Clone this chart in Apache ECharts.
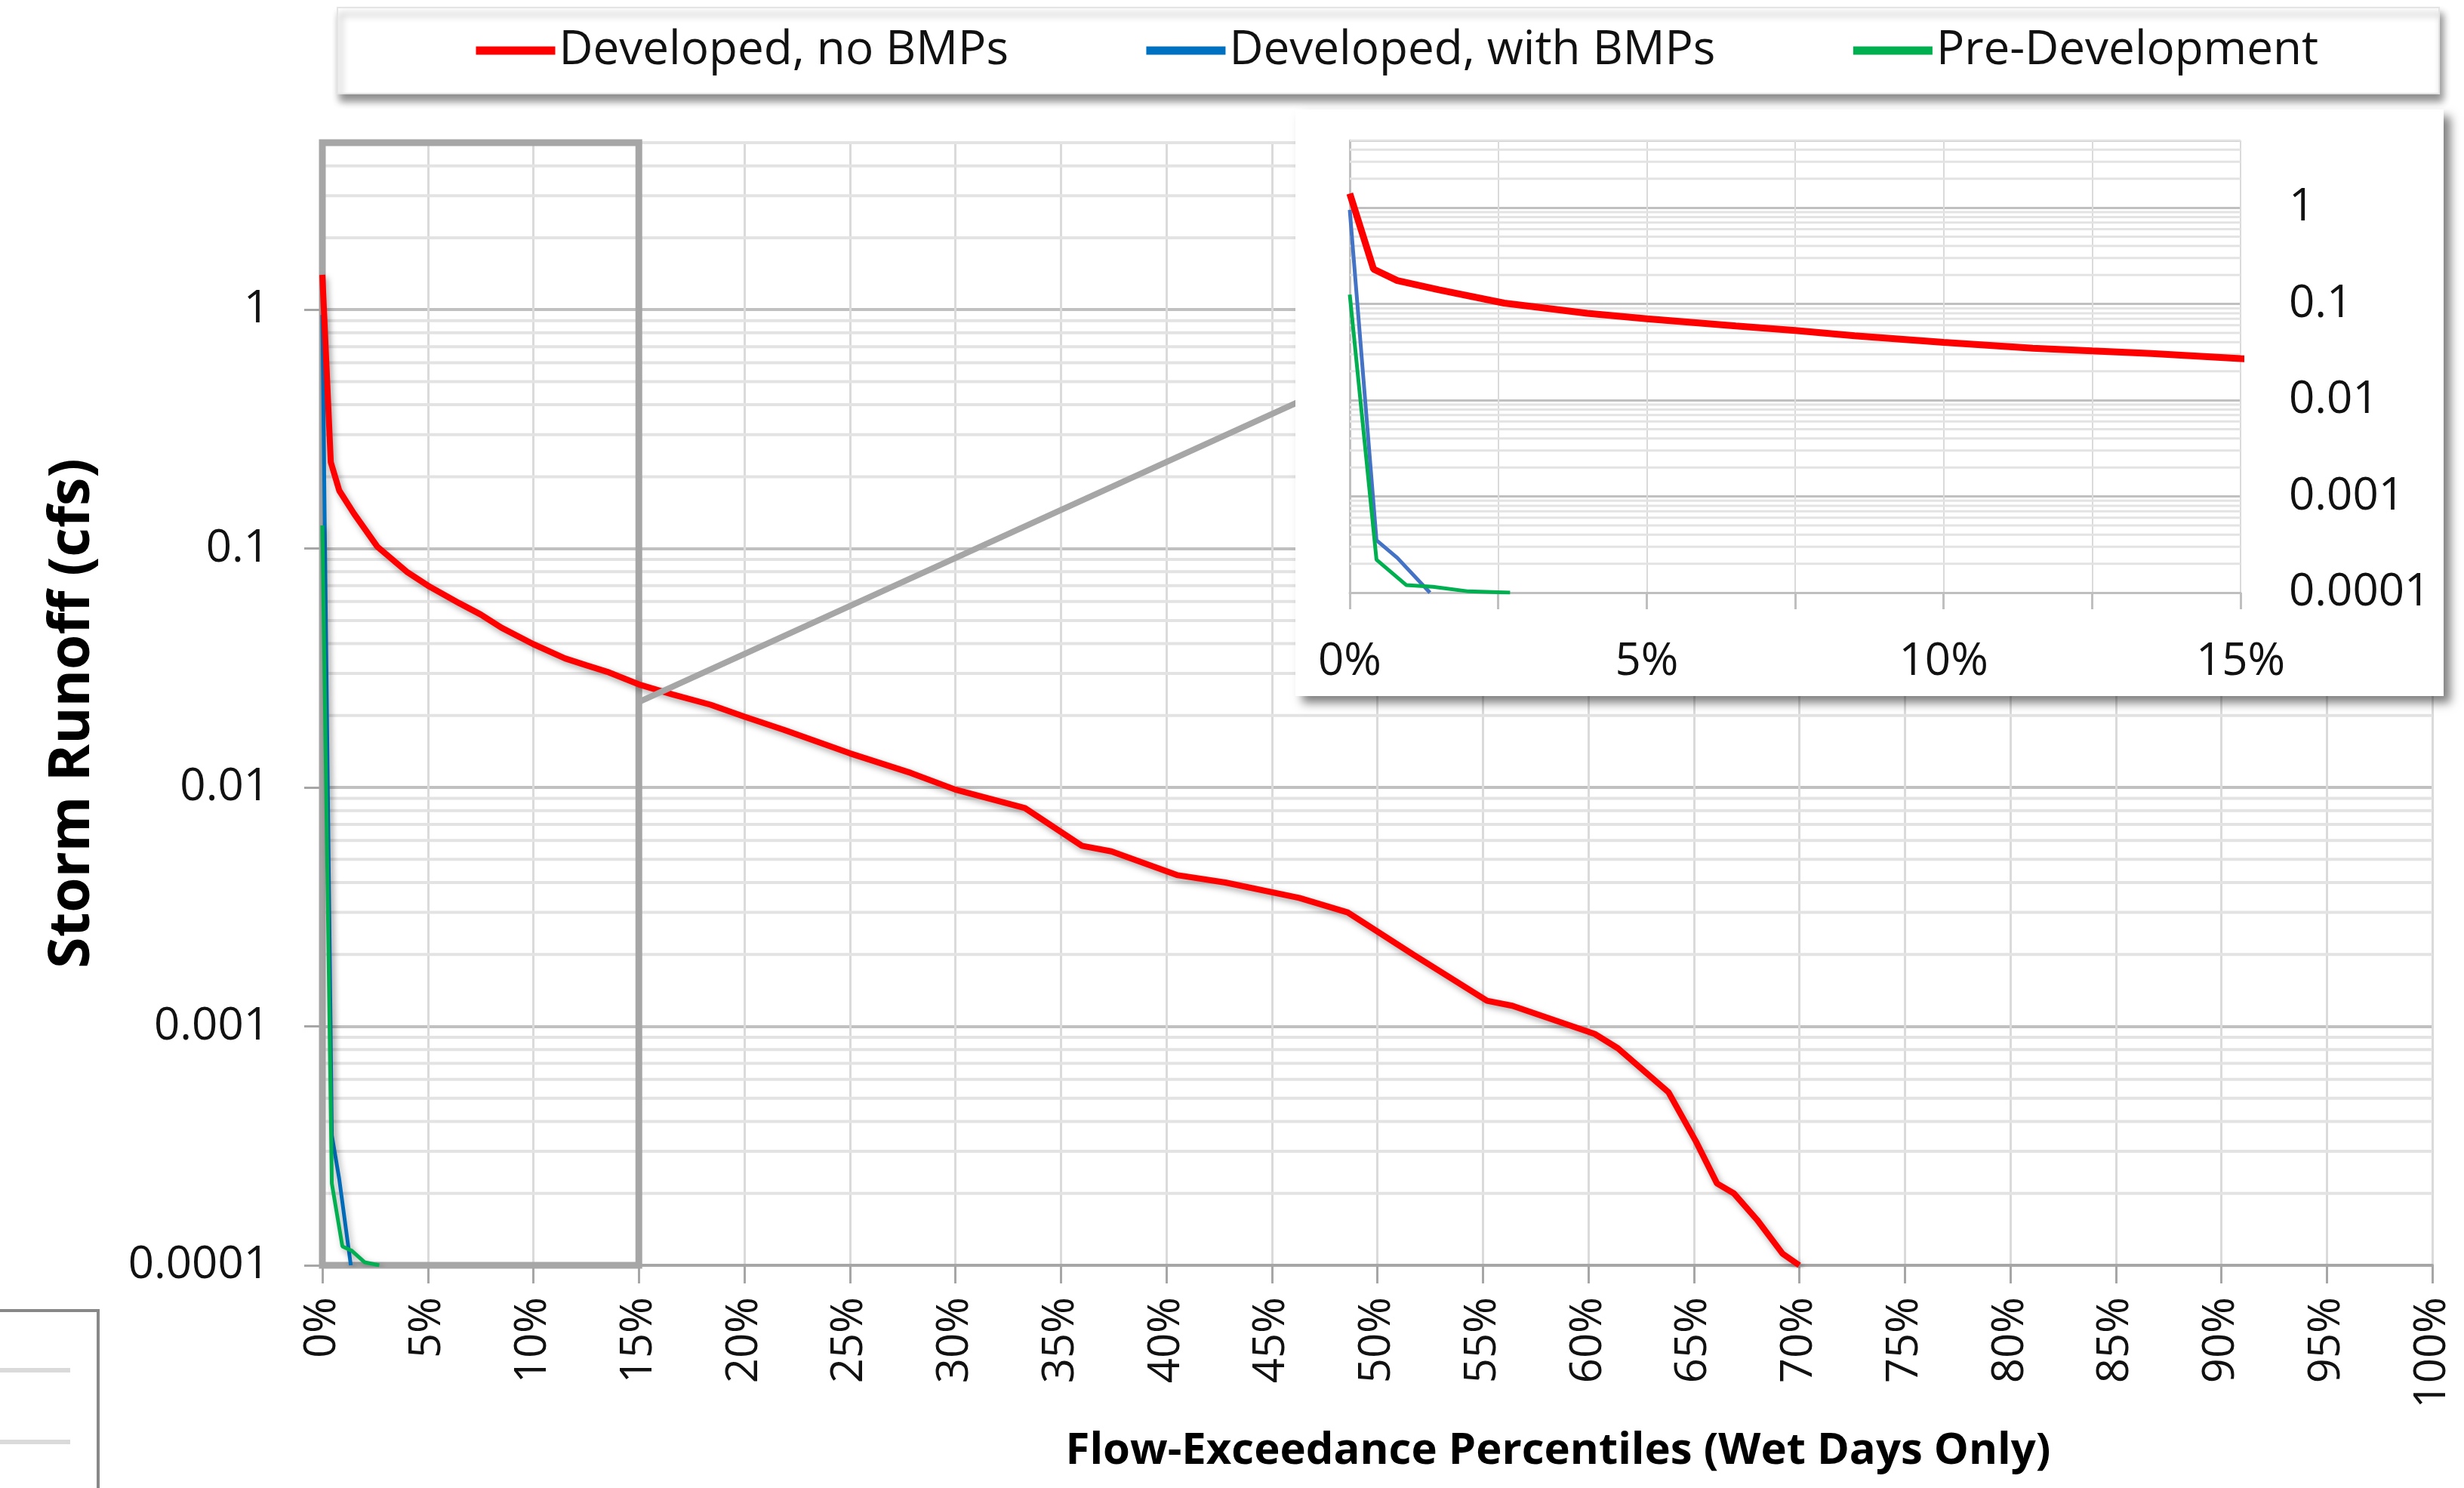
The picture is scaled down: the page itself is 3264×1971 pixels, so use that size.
<!DOCTYPE html>
<html>
<head>
<meta charset="utf-8">
<title>Storm Runoff flow-exceedance</title>
<script src="https://cdn.jsdelivr.net/npm/echarts@6/dist/echarts.min.js"></script>
<style>
  html, body { margin: 0; padding: 0; background: #fff; }
  #chart { width: 3264px; height: 1971px; }
</style>
</head>
<body>
<div id="chart"></div>
<script>
// exceedance percentile (%) and runoff (cfs)
const seriesNames = ['Developed, no BMPs', 'Developed, with BMPs', 'Pre-Development'];

const redPct = [0, 0.4, 0.8, 1.5, 2.6, 4.0, 5.0, 6.5, 7.5, 8.5, 10.0, 11.5, 12.5, 13.5, 15.0, 16.6, 18.4, 20.0, 21.9, 25.0,
  27.9, 30.0, 33.3, 36.0, 37.4, 40.5, 42.8, 46.3, 48.6, 51.7, 55.2, 56.4, 60.3, 61.4, 63.8, 65.1, 66.1, 66.9, 68.0, 69.2, 70.0];
const redCfs = [1.40, 0.23, 0.175, 0.14, 0.102, 0.080, 0.070, 0.059, 0.053, 0.0466, 0.0398, 0.0347, 0.0325, 0.0305, 0.0270, 0.0245, 0.0222, 0.0198, 0.0174, 0.0139,
  0.0115, 0.0098, 0.0082, 0.0057, 0.0054, 0.0043, 0.0040, 0.00345, 0.0030, 0.0020, 0.00128, 0.00122, 0.00093, 0.00081, 0.00053, 0.00033, 0.00022, 0.00020, 0.000155, 0.000112, 0.0001];

const bluePct = [0, 0.45, 0.8, 1.35];
const blueCfs = [0.95, 0.00035, 0.00023, 0.0001];

const greenPct = [0, 0.45, 0.95, 1.4, 2.0, 2.7];
const greenCfs = [0.125, 0.00022, 0.00012, 0.000115, 0.000103, 0.0001];

// axis ranges
const yMin = 0.0001, yMax = 5;
const xMainMax = 100, xInsetMax = 15;

// zoom box (x0, y0, x1, y1) and the link line toward the inset
const zoomBox = [0, 0.0001, 15, 5];
const zoomLink = [[15, 0.0228], [46.5, 0.42]];

// minor log gridlines (2..9 of each decade)
const decades = [0.0001, 0.001, 0.01, 0.1, 1];
const multipliers = [2, 3, 4, 5, 6, 7, 8, 9];
const minorTicks = [];
decades.forEach(d => multipliers.forEach(m => { if (d * m <= yMax) minorTicks.push(+(d * m).toPrecision(3)); }));

const pairs = (xs, ys) => xs.map((x, i) => [x, ys[i]]);
const fmtLog = v => String(+(+v).toPrecision(6));
const FONT = 'Open Sans';

const chart = echarts.init(document.getElementById('chart'));

// horizontal minor gridlines as broken line segments across the grid
const minorGrid = (idx, xMax, z, color, width) => {
  const segs = [];
  minorTicks.forEach(v => { segs.push([0, v], [xMax, v], [null, null]); });
  return {
    type: 'line', xAxisIndex: idx, yAxisIndex: idx, z: z, silent: true,
    data: segs, symbol: 'none', connectNulls: false,
    lineStyle: { color: color, width: width }
  };
};

const option = {
  animation: false,
  backgroundColor: '#fff',
  textStyle: { fontFamily: FONT },
  legend: {
    data: seriesNames,
    left: 447, top: 10,
    padding: [26, 160, 26, 178],
    itemWidth: 105, itemHeight: 12, itemGap: 177,
    backgroundColor: '#fff',
    borderColor: '#e4e4e4', borderWidth: 2,
    shadowBlur: 10, shadowColor: 'rgba(0,0,0,0.45)', shadowOffsetX: 4, shadowOffsetY: 9,
    lineStyle: { width: 11 },
    textStyle: { fontSize: 62, color: '#111', fontFamily: FONT }
  },
  grid: [
    { left: 427, top: 189, right: 42, bottom: 295 },
    { left: 1788, top: 186, right: 296, bottom: 1186, z: 11 }
  ],
  xAxis: [
    {
      type: 'value', gridIndex: 0, min: 0, max: xMainMax, interval: 5,
      axisLine: { lineStyle: { color: '#a6a6a6', width: 4 } },
      axisTick: { show: true, length: 24, lineStyle: { color: '#a6a6a6', width: 3 } },
      axisLabel: { rotate: 90, formatter: '{value}%', fontSize: 58, color: '#111', margin: 42, fontFamily: FONT },
      splitLine: { show: true, lineStyle: { color: '#dadada', width: 3 } }
    },
    {
      type: 'value', gridIndex: 1, min: 0, max: xInsetMax, interval: 2.5, z: 11,
      axisLine: { lineStyle: { color: '#bfbfbf', width: 3 } },
      axisTick: { show: true, length: 22, lineStyle: { color: '#bfbfbf', width: 3 } },
      axisLabel: { formatter: v => (v % 5 === 0 ? v + '%' : ''), fontSize: 60, color: '#111', margin: 62, fontFamily: FONT },
      splitLine: { show: true, lineStyle: { color: '#dadada', width: 2 } }
    }
  ],
  yAxis: [
    {
      type: 'log', logBase: 10, gridIndex: 0, min: yMin, max: yMax,
      axisLine: { show: true, lineStyle: { color: '#a6a6a6', width: 4 } },
      axisTick: { show: true, length: 24, lineStyle: { color: '#a6a6a6', width: 3 } },
      axisLabel: { fontSize: 60, color: '#111', margin: 70, showMaxLabel: false, formatter: fmtLog, fontFamily: FONT },
      splitLine: { show: true, lineStyle: { color: '#c0c0c0', width: 4 } }
    },
    {
      type: 'log', logBase: 10, gridIndex: 1, min: yMin, max: yMax, position: 'right', z: 11,
      axisLine: { show: true, lineStyle: { color: '#bfbfbf', width: 3 } },
      axisTick: { show: true, length: 22, lineStyle: { color: '#bfbfbf', width: 3 } },
      axisLabel: { fontSize: 60, color: '#111', margin: 64, showMaxLabel: false, formatter: fmtLog, fontFamily: FONT },
      splitLine: { show: true, lineStyle: { color: '#c0c0c0', width: 3 } }
    }
  ],
  series: [
    minorGrid(0, xMainMax, 1, '#e3e3e3', 4),
    {
      // zoom frame and link line
      type: 'line', data: [], xAxisIndex: 0, yAxisIndex: 0, z: 2, silent: true,
      markArea: {
        silent: true, z: 2,
        itemStyle: { color: 'rgba(0,0,0,0)', borderColor: '#a6a6a6', borderWidth: 9 },
        data: [[{ xAxis: zoomBox[0], yAxis: zoomBox[1] }, { xAxis: zoomBox[2], yAxis: zoomBox[3] }]]
      },
      markLine: {
        silent: true, z: 5, symbol: ['none', 'none'], label: { show: false },
        lineStyle: { color: '#a6a6a6', width: 8, type: 'solid' },
        data: [[{ coord: zoomLink[0] }, { coord: zoomLink[1] }]]
      }
    },
    {
      name: seriesNames[1], type: 'line', xAxisIndex: 0, yAxisIndex: 0, z: 3,
      data: pairs(bluePct, blueCfs), symbol: 'none', color: '#0070c0',
      lineStyle: { color: '#0070c0', width: 5, shadowBlur: 8, shadowColor: 'rgba(0,0,0,0.3)', shadowOffsetX: 3, shadowOffsetY: 4 }
    },
    {
      name: seriesNames[2], type: 'line', xAxisIndex: 0, yAxisIndex: 0, z: 3,
      data: pairs(greenPct, greenCfs), symbol: 'none', color: '#00b050',
      lineStyle: { color: '#00b050', width: 5, shadowBlur: 8, shadowColor: 'rgba(0,0,0,0.3)', shadowOffsetX: 3, shadowOffsetY: 4 }
    },
    {
      name: seriesNames[0], type: 'line', xAxisIndex: 0, yAxisIndex: 0, z: 4,
      data: pairs(redPct, redCfs), symbol: 'none', color: '#ff0000',
      lineStyle: { color: '#ff0000', width: 8, shadowBlur: 8, shadowColor: 'rgba(0,0,0,0.35)', shadowOffsetX: 3, shadowOffsetY: 4 }
    },
    // inset
    minorGrid(1, xInsetMax, 11, '#e3e3e3', 3),
    {
      name: 'inset-blue', type: 'line', xAxisIndex: 1, yAxisIndex: 1, z: 12, clip: true,
      data: pairs(bluePct, blueCfs), symbol: 'none', lineStyle: { color: '#4472c4', width: 5 }
    },
    {
      name: 'inset-green', type: 'line', xAxisIndex: 1, yAxisIndex: 1, z: 12, clip: true,
      data: pairs(greenPct, greenCfs), symbol: 'none', lineStyle: { color: '#00b050', width: 5 }
    },
    {
      name: 'inset-red', type: 'line', xAxisIndex: 1, yAxisIndex: 1, z: 13, clip: true,
      data: pairs(redPct, redCfs), symbol: 'none', lineStyle: { color: '#ff0000', width: 9 }
    }
  ],
  graphic: [
    {
      type: 'rect', z: 10, silent: true,
      shape: { x: 1716, y: 145, width: 1521, height: 777 },
      style: { fill: '#fff', shadowBlur: 12, shadowColor: 'rgba(0,0,0,0.5)', shadowOffsetX: 9, shadowOffsetY: 9 }
    },
    {
      type: 'text', x: 97, y: 945, rotation: Math.PI / 2, silent: true,
      style: {
        text: 'Storm Runoff (cfs)', fill: '#000',
        font: 'bold 75px "Open Sans"',
        textAlign: 'center', align: 'center', textVerticalAlign: 'middle', verticalAlign: 'middle'
      }
    },
    {
      type: 'text', x: 2064, y: 1922, silent: true,
      style: {
        text: 'Flow-Exceedance Percentiles (Wet Days Only)', fill: '#000',
        font: 'bold 58px "Open Sans"',
        textAlign: 'center', align: 'center', textVerticalAlign: 'middle', verticalAlign: 'middle'
      }
    },
    {
      type: 'rect', silent: true,
      shape: { x: -10, y: 1736, width: 140, height: 260 },
      style: { fill: '#fff', stroke: '#888', lineWidth: 4 }
    },
    { type: 'line', silent: true, shape: { x1: 0, y1: 1815, x2: 93, y2: 1815 }, style: { stroke: '#dadada', lineWidth: 6 } },
    { type: 'line', silent: true, shape: { x1: 0, y1: 1910, x2: 93, y2: 1910 }, style: { stroke: '#dadada', lineWidth: 6 } }
  ]
};

chart.setOption(option);
</script>
</body>
</html>
